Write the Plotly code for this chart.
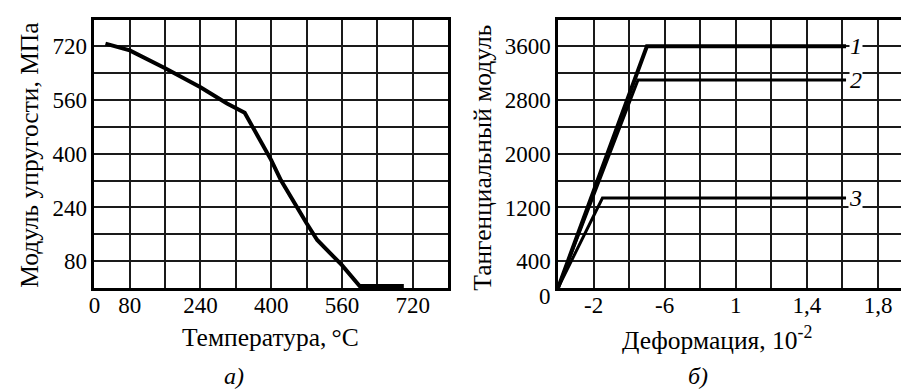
import plotly.graph_objects as go

# Panel a): Young's modulus vs temperature
temperature = [25, 80, 160, 240, 300, 340, 400, 422, 480, 504, 560, 600, 700]
modulus = [728, 708, 655, 598, 550, 522, 381, 321, 193, 143, 68, 6, 6]

temp_grid = list(range(0, 801, 80))
temp_ticktext = ["0", "80", "", "240", "", "400", "", "560", "", "720", ""]
mod_grid = list(range(0, 801, 80))
mod_ticktext = ["", "80", "", "240", "", "400", "", "560", "", "720", ""]

# Panel б): tangent modulus vs strain, three curves
strain_1 = [0, 0.50, 1.62]
tangent_1 = [0, 3600, 3600]
strain_2 = [0, 0.45, 1.62]
tangent_2 = [0, 3100, 3100]
strain_3 = [0, 0.25, 1.62]
tangent_3 = [0, 1340, 1340]
curve_names = ["1", "2", "3"]

strain_grid = [round(0.2 * i, 1) for i in range(11)]
strain_ticktext = ["", "-2", "", "-6", "", "1", "", "1,4", "", "1,8", ""]
tangent_grid = list(range(0, 4001, 400))
tangent_ticktext = ["", "400", "", "1200", "", "2000", "", "2800", "", "3600", ""]

W, H = 901, 390
FONT = "Liberation Serif"
TICK = dict(family=FONT, size=23, color="black")
TITLE = dict(family=FONT, size=25.5, color="black")

def px_x(v):
    return v / W

def px_y(v):
    return 1 - v / H

fig = go.Figure()

fig.add_trace(go.Scatter(x=temperature, y=modulus, mode="lines",
                         line=dict(color="black", width=4),
                         xaxis="x", yaxis="y", showlegend=False))

for sx, ty, w in [(strain_1, tangent_1, 4), (strain_2, tangent_2, 3), (strain_3, tangent_3, 3)]:
    fig.add_trace(go.Scatter(x=sx, y=ty, mode="lines",
                             line=dict(color="black", width=w),
                             xaxis="x2", yaxis="y2", showlegend=False))

grid_common = dict(showgrid=True, gridcolor="#1a1a1a", gridwidth=2,
                   zeroline=False, showline=True, linecolor="black", linewidth=2.5,
                   ticks="", ticklen=0, tickfont=TICK, tickmode="array")

y_dom = [px_y(288), px_y(19.5)]

fig.update_layout(
    width=W, height=H,
    margin=dict(l=0, r=0, t=0, b=0),
    paper_bgcolor="white", plot_bgcolor="white",
    xaxis=dict(domain=[px_x(89), px_x(445)], range=[0, 800], anchor="y",
               tickvals=temp_grid, ticktext=temp_ticktext, mirror=True,
               ticklabelstandoff=-5, **grid_common),
    yaxis=dict(domain=y_dom, range=[0, 800], anchor="x",
               tickvals=mod_grid, ticktext=mod_ticktext, mirror=True, **grid_common),
    xaxis2=dict(domain=[px_x(555.7), 1.0], range=[0, (W - 555.7) / 179.0], anchor="y2",
                tickvals=strain_grid, ticktext=strain_ticktext, mirror=True,
                ticklabelstandoff=-5, **grid_common),
    yaxis2=dict(domain=y_dom, range=[0, 4000], anchor="x2",
                tickvals=tangent_grid, ticktext=tangent_ticktext, mirror=False, **grid_common),
)

def label(text, x, y, angle=0, font=TITLE, xanchor="center", **kw):
    return dict(text=text, x=px_x(x), y=px_y(y), xref="paper", yref="paper",
                xanchor=xanchor, yanchor="middle", textangle=angle,
                showarrow=False, font=font, **kw)

CAPTION = dict(family=FONT, size=24, color="black")
ann = [
    label("Модуль упругости, МПа", 24, 155, angle=-90),
    label("Температура,\u2009°C", 266, 337),
    label("Тангенциальный модуль", 479, 158, angle=-90),
    label("Деформация, 10<sup>-2</sup>", 716, 338),
    label("0", 551, 296, font=TICK, xanchor="right"),
    label("<i>а)</i>", 230, 376, font=CAPTION),
    label("<i>б)</i>", 697, 376, font=CAPTION),
]
# curve numbers
for name, ty in zip(curve_names, [tangent_1, tangent_2, tangent_3]):
    ann.append(dict(text="<i>" + name + "</i>", x=1.675, y=ty[-1], xref="x2", yref="y2",
                    xanchor="center", yanchor="middle",
                    showarrow=False, bgcolor="white", borderpad=0,
                    font=dict(family=FONT, size=24, color="black")))

fig.update_layout(annotations=ann)
fig.write_html("out.html")
